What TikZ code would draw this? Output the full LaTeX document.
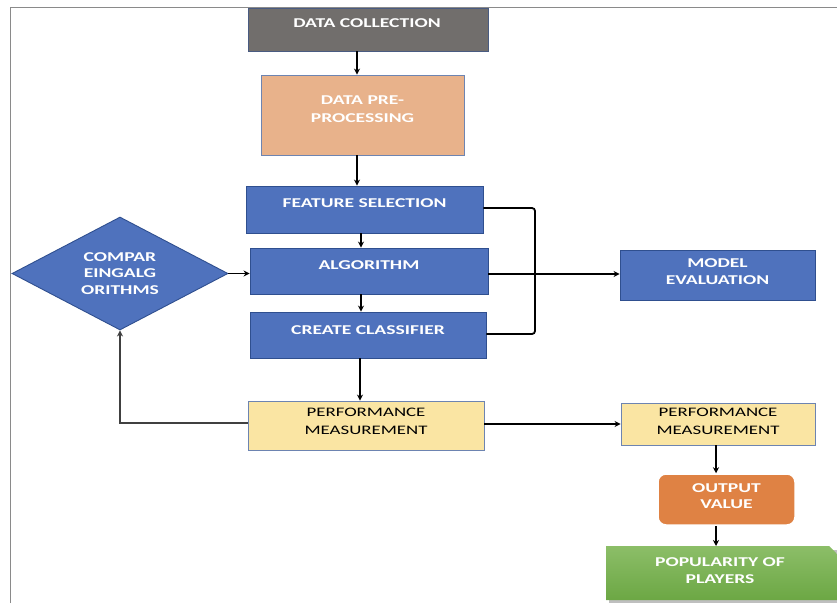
\documentclass[tikz,border=0pt]{standalone}
\usepackage{fontspec}
\setmainfont{Carlito}
\newfontfamily\widefont[FakeStretch=1.45]{Carlito}
\usetikzlibrary{shapes.geometric,arrows.meta}
\definecolor{dcgray}{HTML}{716E6C}
\definecolor{dpporange}{HTML}{E8B28B}
\definecolor{bluefill}{HTML}{4F72BD}
\definecolor{blueedge}{HTML}{2F4F8F}
\definecolor{yellowfill}{HTML}{FAE5A3}
\definecolor{outorange}{HTML}{DF8244}
\definecolor{greentop}{HTML}{8CBE68}
\definecolor{greenbot}{HTML}{6CA744}
\definecolor{framegray}{HTML}{8A8A8A}
\tikzset{
  box/.style={draw=blueedge, line width=0.9pt, inner sep=0pt},
  wtxt/.style={text=white, font=\widefont\bfseries\fontsize{13.5}{18}\selectfont, align=center, inner sep=0pt},
  btxt/.style={text=black, font=\widefont\fontsize{13}{18}\selectfont, align=center, inner sep=0pt},
  arr/.style={draw=black, line width=1.8pt, -{Stealth[length=6pt,width=6pt]}},
  thinarr/.style={draw=black!75, line width=1.1pt, -{Stealth[length=6pt,width=6pt]}},
}
\begin{document}
\begin{tikzpicture}[x=1pt,y=-1pt]
\useasboundingbox (0,0) rectangle (837,603);
% frame
\draw[framegray, line width=1pt] (10,603) -- (10,7) -- (837,7);

% boxes
\node[box, draw=blueedge!60!dcgray, fill=dcgray, minimum width=240pt, minimum height=43pt] (dc) at (368,29.5) {};
\node[wtxt] (dct) at (367,23.5) {DATA COLLECTION};

\node[box, draw=blueedge!70, fill=dpporange, minimum width=203pt, minimum height=80pt] (dpp) at (362.5,115) {};
\node[wtxt] (dppt) at (362.5,109) {DATA PRE-\\PROCESSING};

\node[box, fill=bluefill, minimum width=237pt, minimum height=47pt] (fs) at (364.5,209.5) {};
\node[wtxt] (fst) at (364.5,203) {FEATURE SELECTION};

\node[box, fill=bluefill, minimum width=238pt, minimum height=46pt] (alg) at (369,271) {};
\node[wtxt] (algt) at (369,265) {ALGORITHM};

\node[box, fill=bluefill, minimum width=236pt, minimum height=46pt] (cc) at (368,335) {};
\node[wtxt] (cct) at (368,330) {CREATE CLASSIFIER};

\node[diamond, draw=blueedge, line width=0.9pt, fill=bluefill, minimum width=216pt, minimum height=113pt, aspect=1.91, inner sep=0pt] (cmp) at (120,273.5) {};
\node[wtxt, font=\widefont\bfseries\fontsize{13.5}{16.5}\selectfont] (cmpt) at (120,273.5) {COMPAR\\EINGALG\\ORITHMS};

\node[box, fill=bluefill, minimum width=195pt, minimum height=50pt] (me) at (717.5,275) {};
\node[wtxt, font=\widefont\bfseries\fontsize{13.5}{17}\selectfont] (met) at (717.5,271.5) {MODEL\\EVALUATION};

\node[box, draw=blueedge!70, fill=yellowfill, minimum width=236pt, minimum height=49pt] (pm1) at (366,425.5) {};
\node[btxt] (pm1t) at (366,421) {PERFORMANCE\\MEASUREMENT};

\node[box, draw=blueedge!70, fill=yellowfill, minimum width=194pt, minimum height=42pt] (pm2) at (718,424) {};
\node[btxt] (pm2t) at (718,421) {PERFORMANCE\\MEASUREMENT};

\node[draw=white, line width=1.5pt, rounded corners=8pt, fill=outorange, minimum width=137pt, minimum height=51pt, inner sep=0pt] (ov) at (726.5,499.5) {};
\node[wtxt, font=\widefont\bfseries\fontsize{13.5}{16}\selectfont] (ovt) at (726.5,496) {OUTPUT\\VALUE};

% popularity (snipped corner)
\fill[black!25] (609,550) -- (837,550) -- (837,603) -- (609,603) -- cycle;
\shade[top color=greentop, bottom color=greenbot] (606,546) -- (829,546) -- (837,554) -- (837,600) -- (606,600) -- cycle;
\coordinate (poptop) at (716,546);
\node[wtxt, font=\widefont\bfseries\fontsize{13.5}{17}\selectfont] (popt) at (720,570.5) {POPULARITY OF\\PLAYERS};

% connectors
\draw[arr] (dc.south -| 357,0) -- (dpp.north -| 357,0);
\draw[arr] (dpp.south -| 357,0) -- (fs.north -| 357,0);
\draw[arr] (fs.south -| 361,0) -- (alg.north -| 361,0);
\draw[arr] (alg.south -| 361,0) -- (cc.north -| 361,0);
\draw[arr] (cc.south -| 360,0) -- (pm1.north -| 360,0);
\draw[black, line width=1.8pt, rounded corners=3pt] (fs.east |- 0,208) -- (535,208) -- (535,334) -- (cc.east |- 0,334);
\draw[arr] (alg.east |- 0,274) -- (me.west |- 0,274);
\draw[arr] (cmp.east) -- (alg.west |- cmp.east);
\draw[thinarr] (pm1.west |- 0,423) -- (120,423) -- (cmp.south);
\draw[arr] (pm1.east |- 0,424) -- (pm2.west |- 0,424);
\draw[arr] (pm2.south -| 716,0) -- (ov.north -| 716,0);
\draw[arr] (ov.south -| 716,0) -- (poptop);
\end{tikzpicture}
\end{document}
